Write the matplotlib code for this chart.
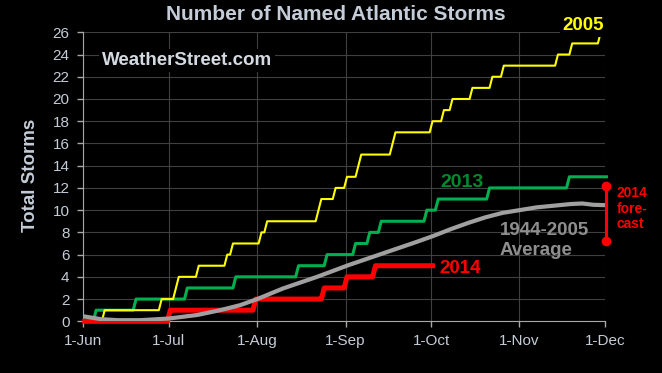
import numpy as np
import matplotlib
matplotlib.use('Agg')
import matplotlib.pyplot as plt

plt.rcParams['font.family'] = ['Liberation Sans', 'DejaVu Sans']

# day 0 = 1-Jun ... day 183 = 1-Dec
month_days = [0, 30, 61, 92, 122, 153, 183]
month_labels = ['1-Jun', '1-Jul', '1-Aug', '1-Sep', '1-Oct', '1-Nov', '1-Dec']
y_ticks = list(range(0, 27, 2))

storms_2005 = [7, 27, 32, 33, 40, 50, 52, 62, 64, 82, 83, 88, 92, 96, 97,
               108, 109, 122, 126, 129, 136, 143, 147, 166, 171, 181]
storms_2013 = [4, 18, 36, 53, 75, 85, 95, 100, 104, 120, 124, 142, 170]
storms_2014 = [30, 60, 84, 92, 102]
last_day_2005 = 181
last_day_2013 = 183
last_day_2014 = 122

# 1944-2005 average curve
avg_days = [0, 6, 12, 20, 30, 40, 48, 55, 61, 70, 82, 93, 105, 117, 123,
            129, 135, 141, 147, 153, 159, 165, 171, 175, 179, 183]
avg_vals = [0.45, 0.2, 0.1, 0.1, 0.25, 0.57, 1.0, 1.45, 2.0, 2.95, 4.0, 5.05,
            6.1, 7.15, 7.7, 8.3, 8.85, 9.35, 9.75, 10.0, 10.25, 10.4, 10.55,
            10.6, 10.48, 10.45]

# NOAA 2014 forecast range
forecast_low = 7.25
forecast_high = 12.15


def running_count(storm_days, last_day):
    days = np.arange(last_day + 1)
    counts = np.searchsorted(np.array(storm_days), days, side='right')
    return days + 0.5, counts   # excel category axis: points sit mid-day


fig = plt.figure(figsize=(6.62, 3.73), dpi=100, facecolor='black')
ax = fig.add_axes([83.3 / 662, 1 - 321.3 / 373, 521.7 / 662, 289 / 373])
ax.set_facecolor('black')

x13, c13 = running_count(storms_2013, last_day_2013)
x05, c05 = running_count(storms_2005, last_day_2005)
x14, c14 = running_count(storms_2014, last_day_2014)

ax.plot(x13, c13, color='#00b050', lw=2.2, zorder=3, clip_on=False)
ax.plot(x05, c05, color='#ffff00', lw=1.5, zorder=4, clip_on=False)
ax.plot(x14, c14, color='#ff0000', lw=3.6, zorder=5, clip_on=False)
ax.plot(avg_days, avg_vals, color='#a0a0a0', lw=3, zorder=6,
        solid_capstyle='butt', solid_joinstyle='round')

fx = month_days[-1] + 0.5
ax.plot([fx, fx], [forecast_low, forecast_high], color='#ff0000', lw=2.2,
        marker='o', ms=6, zorder=7, clip_on=False)

ax.set_xlim(0, 183)
ax.set_ylim(0, 26)
ax.set_xticks(month_days)
ax.set_xticklabels(month_labels)
ax.set_yticks(y_ticks)
ax.tick_params(colors='#a8a8a8', labelcolor='#c4ccd8', labelsize=11,
               length=4, width=1)
ax.tick_params(axis='y', pad=6)
ax.tick_params(axis='x', pad=5)
ax.grid(True, color='#404040', lw=0.8)
ax.set_axisbelow(True)
for side in ['top', 'right']:
    ax.spines[side].set_visible(False)
for side in ['left', 'bottom']:
    ax.spines[side].set_color('#a8a8a8')

box = dict(facecolor='black', edgecolor='none', pad=2)
ax.text(6.45, 23.05, 'WeatherStreet.com', color='#d4dae2', fontsize=13.5,
        fontweight='bold', va='baseline', bbox=box, zorder=8)
ax.text(168.2, 26.2, '2005', color='#ffff00', fontsize=13.5,
        fontweight='bold', va='baseline', bbox=box, zorder=8, clip_on=False)
ax.text(125.3, 12.1, '2013', color='#008a2e', fontsize=14,
        fontweight='bold', va='baseline', zorder=8)
ax.text(124.8, 4.37, '2014', color='#ff0000', fontsize=13.5,
        fontweight='bold', va='baseline', zorder=8)
ax.text(146.1, 7.76, '1944-2005', color='#8e8e8e', fontsize=13.5,
        fontweight='bold', va='baseline', zorder=8)
ax.text(146.1, 5.96, 'Average', color='#8e8e8e', fontsize=13.5,
        fontweight='bold', va='baseline', zorder=8)
for label, yv in [('2014', 11.2), ('fore-', 9.7), ('cast', 8.36)]:
    ax.text(187.0, yv, label, color='#ff0000', fontsize=10,
            fontweight='bold', va='baseline', clip_on=False)

fig.text(335.5 / 662, 1 - 20 / 373, 'Number of Named Atlantic Storms',
         color='#c4ccd8', fontsize=15, fontweight='bold',
         ha='center', va='baseline')
fig.text(30.5 / 662, 1 - 175.5 / 373, 'Total Storms', color='#c4ccd8',
         fontsize=13.5, fontweight='bold', rotation=90,
         ha='center', va='center')

fig.savefig('out.png', dpi=100, facecolor='black')
